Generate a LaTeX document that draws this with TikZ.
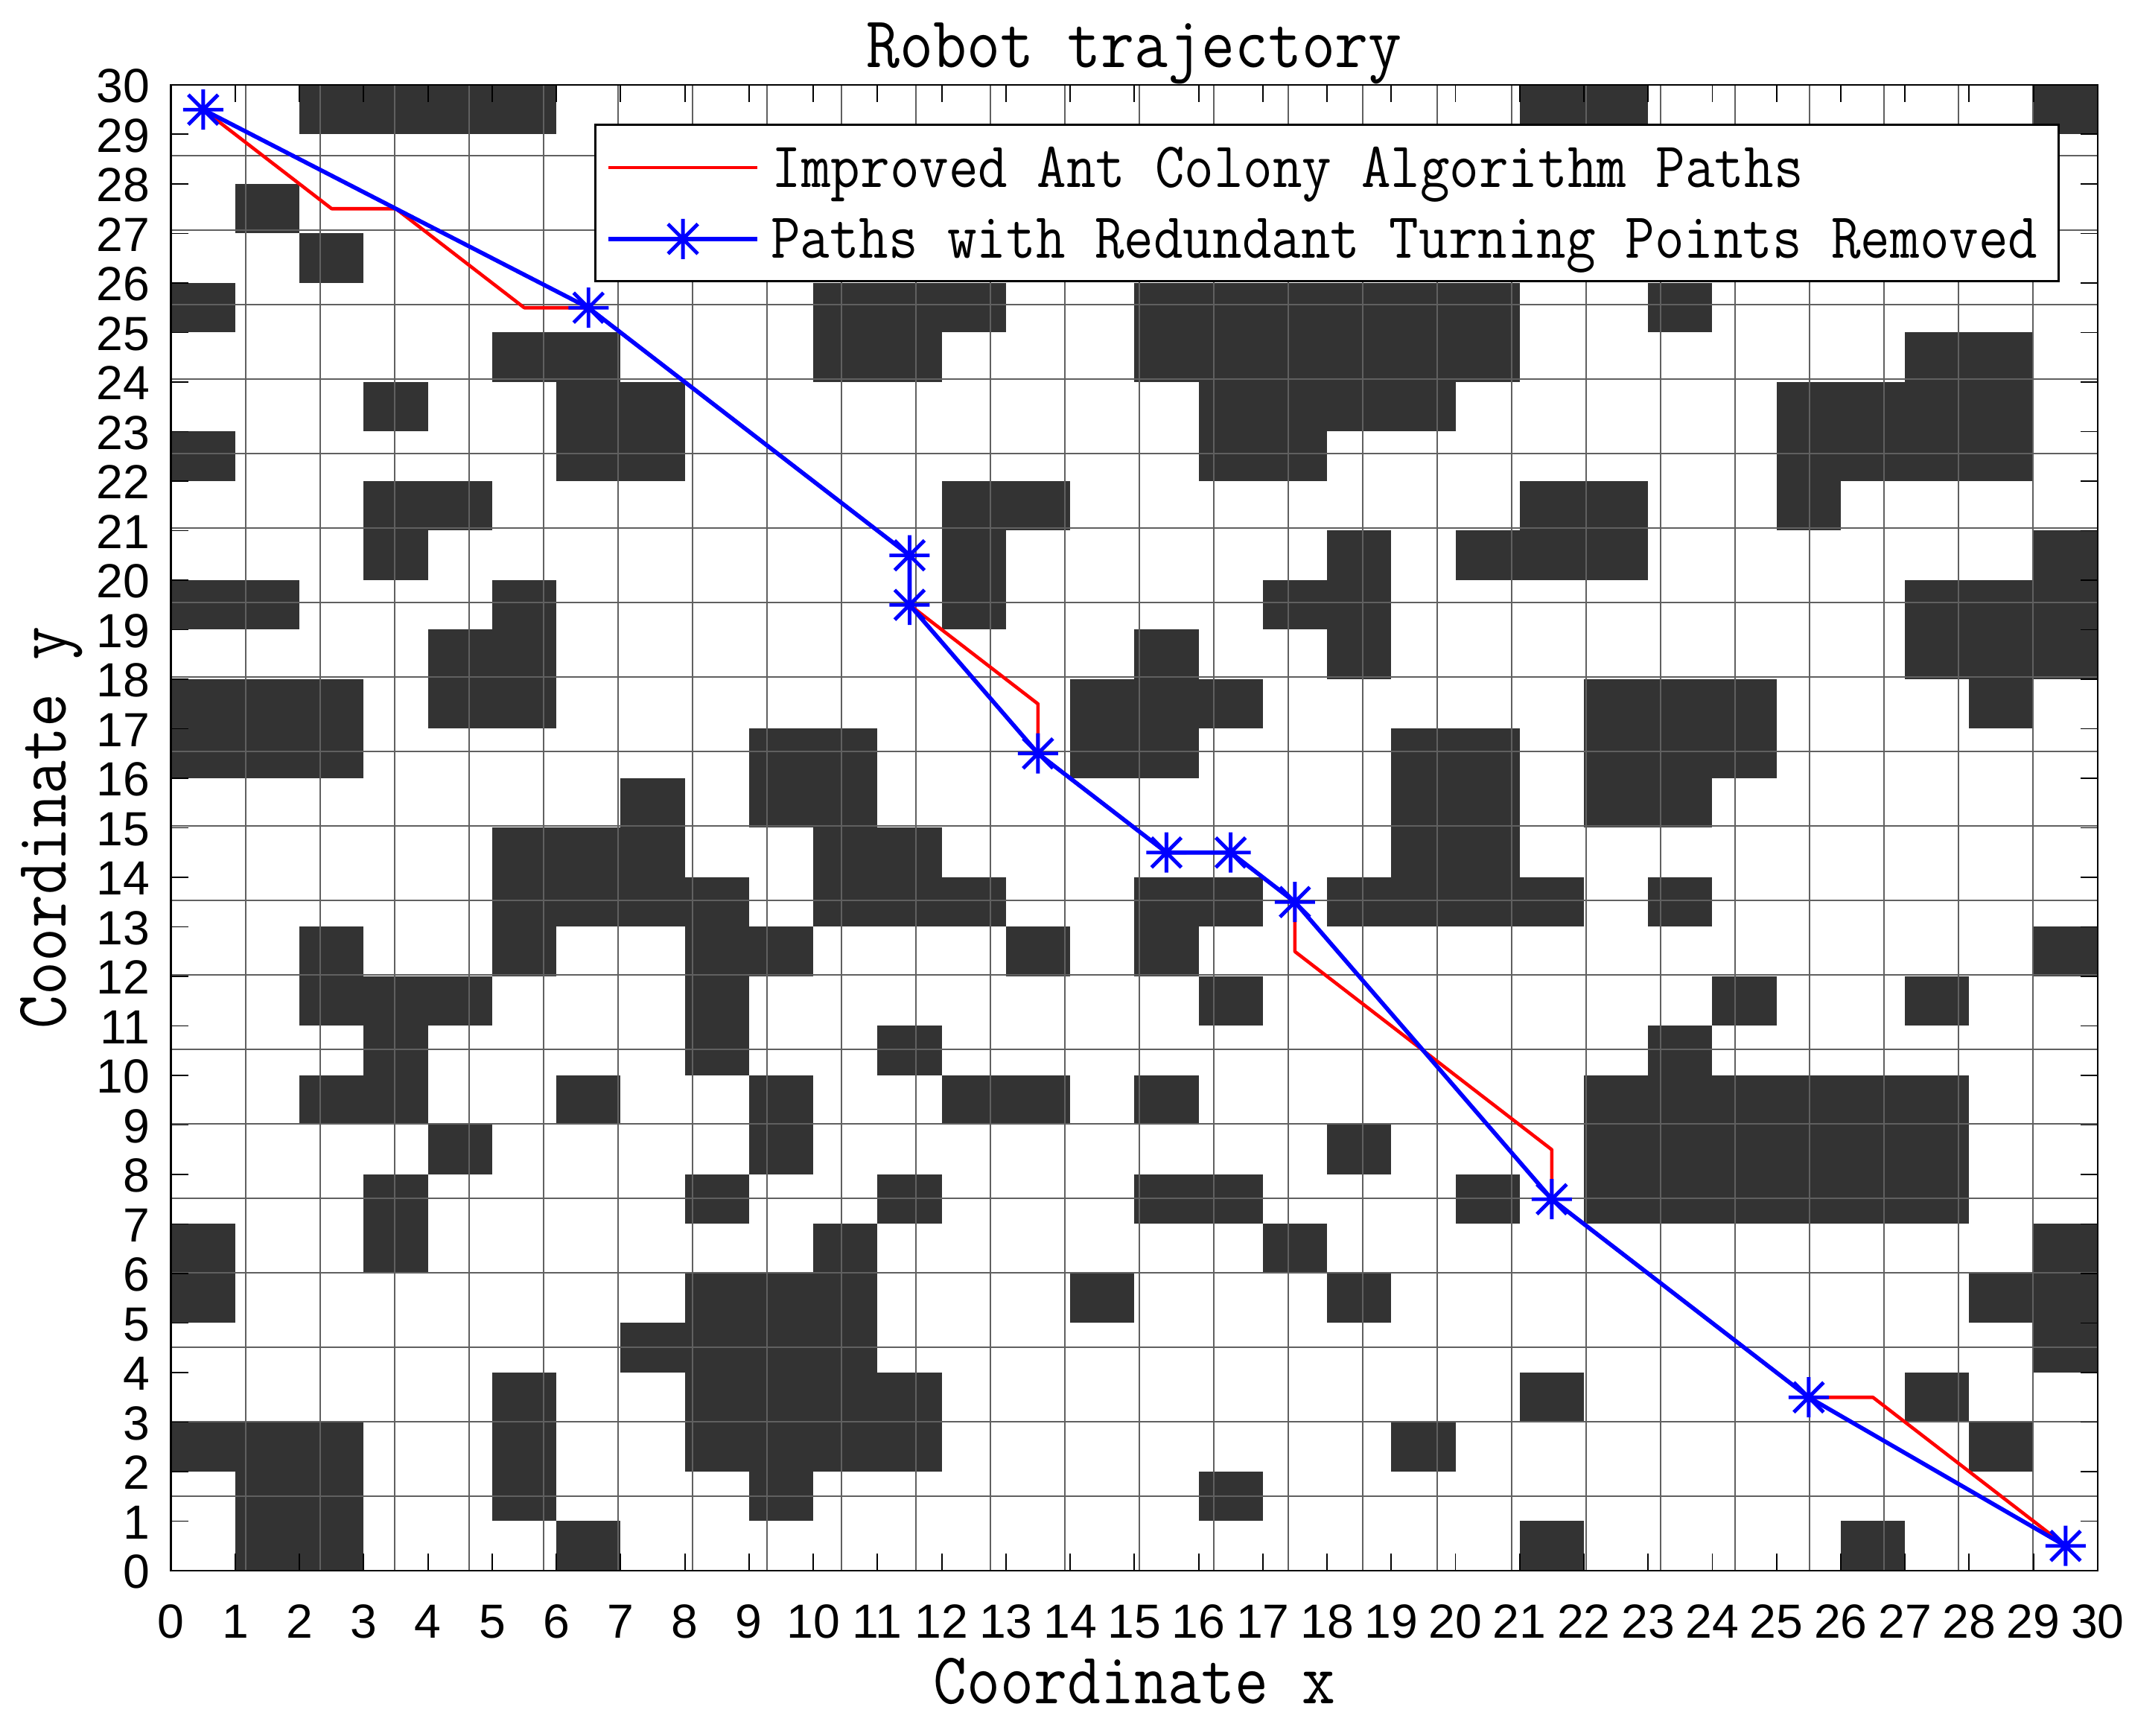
\documentclass[tikz,border=0pt]{standalone}
\usepackage{fontspec}
\usepackage{graphicx}
\newfontfamily\ticksans{Liberation Sans}
\definecolor{cellc}{HTML}{333333}
\definecolor{gridc}{HTML}{606060}
\tikzset{
  cell/.style={fill=cellc},
  gridline/.style={draw=gridc, line width=0.5pt},
  tickmark/.style={draw=black, line width=0.55pt},
  frame/.style={draw=black, line width=0.8pt},
  redpath/.style={draw=red, line width=1.3pt, line join=round},
  bluepath/.style={draw=blue, line width=1.6pt, line join=round},
  ticklab/.style={font=\ticksans\fontsize{18.3}{20}\selectfont, inner sep=0pt},
  txt/.style={inner sep=0pt},
  ast/.pic={\draw[blue, line width=1.4pt]
     (-0.27cm,0) -- (0.27cm,0) (0,-0.27cm) -- (0,0.27cm)
     (-0.2cm,-0.2cm) -- (0.2cm,0.2cm) (-0.2cm,0.2cm) -- (0.2cm,-0.2cm);}
}
\newcommand{\titletext}[1]{\scalebox{0.89}[1]{\fontsize{27.9}{30}\selectfont\ttfamily #1}}
\newcommand{\legtext}[1]{\scalebox{0.885}[1]{\fontsize{24.7}{26}\selectfont\ttfamily #1}}
\begin{document}
\begin{tikzpicture}[x=0.8624cm,y=0.665cm]
\useasboundingbox[fill=white] (-2.6635,-3.338) rectangle (30.488,31.714);
% obstacle cells
\foreach \r/\cs in {
  29/{2,3,4,5,21,22,29},
  27/{1},
  26/{2},
  25/{0,10,11,12,15,16,17,18,19,20,23},
  24/{5,6,10,11,15,16,17,18,19,20,27,28},
  23/{3,6,7,16,17,18,19,25,26,27,28},
  22/{0,6,7,16,17,25,26,27,28},
  21/{3,4,12,13,21,22,25},
  20/{3,12,18,20,21,22,29},
  19/{0,1,5,12,17,18,27,28,29},
  18/{4,5,15,18,27,28,29},
  17/{0,1,2,4,5,14,15,16,22,23,24,28},
  16/{0,1,2,9,10,14,15,19,20,22,23,24},
  15/{7,9,10,19,20,22,23},
  14/{5,6,7,10,11,19,20},
  13/{5,6,7,8,10,11,12,15,16,18,19,20,21,23},
  12/{2,5,8,9,13,15,29},
  11/{2,3,4,8,16,24,27},
  10/{3,8,11,23},
  9/{2,3,6,9,12,13,15,22,23,24,25,26,27},
  8/{4,9,18,22,23,24,25,26,27},
  7/{3,8,11,15,16,20,22,23,24,25,26,27},
  6/{0,3,10,17,29},
  5/{0,8,9,10,14,18,28,29},
  4/{7,8,9,10,29},
  3/{5,8,9,10,11,21,27},
  2/{0,1,2,5,8,9,10,11,19,28},
  1/{1,2,5,9,16},
  0/{1,2,6,21,26}}{
  \foreach \c in \cs {\fill[cell] (\c,\r) rectangle ++(1,1);}
}
% grid
\draw[gridline] (0,0) grid (30,30);
% ticks and tick labels
\foreach \i in {0,...,30}{
  \draw[tickmark] (\i,0) -- ++(0,0.23cm);
  \draw[tickmark] (\i,30) -- ++(0,-0.23cm);
  \draw[tickmark] (0,\i) -- ++(0.23cm,0);
  \draw[tickmark] (30,\i) -- ++(-0.23cm,0);
  \node[ticklab, anchor=base] (xt\i) at (\i,-1.368) {\i};
  \node[ticklab, anchor=base east] (yt\i) at (-0.32,\i-0.36) {\i};
}
\draw[frame] (0,0) rectangle (30,30);
% path points
\coordinate (r1) at (0.5,29.5);
\coordinate (r2) at (2.5,27.5);
\coordinate (r3) at (3.5,27.5);
\coordinate (r4) at (5.5,25.5);
\coordinate (r5) at (6.5,25.5);
\coordinate (r6) at (11.5,20.5);
\coordinate (r7) at (11.5,19.5);
\coordinate (r8) at (13.5,17.5);
\coordinate (r9) at (13.5,16.5);
\coordinate (r10) at (15.5,14.5);
\coordinate (r11) at (16.5,14.5);
\coordinate (r12) at (17.5,13.5);
\coordinate (r13) at (17.5,12.5);
\coordinate (r14) at (21.5,8.5);
\coordinate (r15) at (21.5,7.5);
\coordinate (r16) at (25.5,3.5);
\coordinate (r17) at (26.5,3.5);
\coordinate (r18) at (29.5,0.5);
\draw[redpath] (r1) -- (r2) -- (r3) -- (r4) -- (r5) -- (r6) -- (r7) -- (r8) -- (r9)
  -- (r10) -- (r11) -- (r12) -- (r13) -- (r14) -- (r15) -- (r16) -- (r17) -- (r18);
% blue path
\draw[bluepath] (r1) -- (r5) -- (r6) -- (r7) -- (r9) -- (r10) -- (r11) -- (r12)
  -- (r15) -- (r16) -- (r18);
\foreach \p in {r1,r5,r6,r7,r9,r10,r11,r12,r15,r16,r18}{
  \pic at (\p) {ast};
}
% legend
\node[draw=black, fill=white, line width=0.75pt, inner sep=0pt, anchor=north west,
  minimum width=19.654cm, minimum height=2.100cm] (legend) at (6.59,29.218) {};
\coordinate (lr1) at (6.81,28.33);
\coordinate (lr2) at (9.13,28.33);
\coordinate (lb1) at (6.81,26.89);
\coordinate (lb2) at (9.13,26.89);
\coordinate (lbm) at (7.97,26.89);
\draw[redpath] (lr1) -- (lr2);
\draw[bluepath] (lb1) -- (lb2);
\pic at (lbm) {ast};
\node[txt, anchor=base west] (leg1) at (9.35,27.925) {\legtext{Improved Ant Colony Algorithm Paths}};
\node[txt, anchor=base west] (leg2) at (9.33,26.496) {\legtext{Paths with Redundant Turning Points Removed}};
% title and axis labels
\node[txt, anchor=base] (title) at (15,30.36) {\titletext{Robot trajectory}};
\node[txt, anchor=base] (xlab) at (15,-2.68) {\titletext{Coordinate x}};
\node[txt, anchor=base, rotate=90] (ylab) at (-1.643,15) {\titletext{Coordinate y}};
\end{tikzpicture}
\end{document}
